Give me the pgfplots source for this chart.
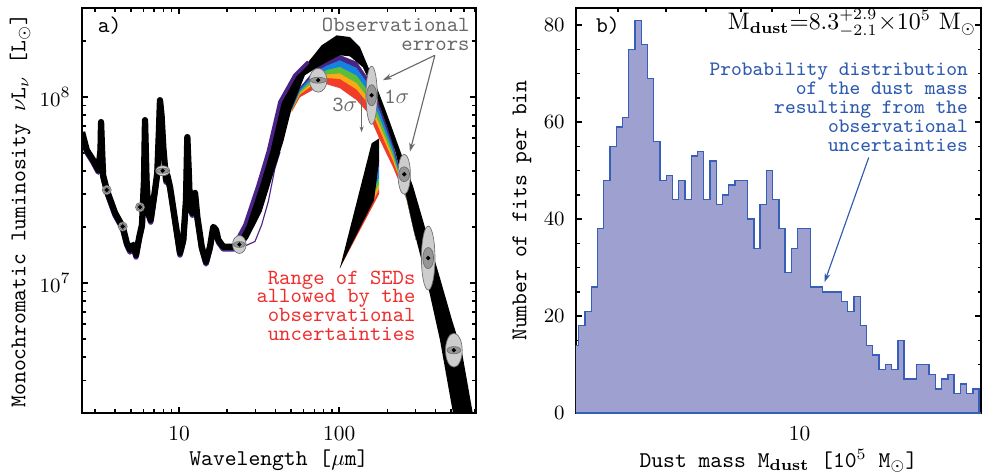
\documentclass[border=0pt]{standalone}
\usepackage{pgfplots}
\pgfplotsset{compat=1.18}
\usetikzlibrary{arrows.meta}

\definecolor{histfill}{RGB}{158,160,208}
\definecolor{histline}{RGB}{55,95,185}
\definecolor{txtblue}{RGB}{45,90,175}
\definecolor{txtred}{RGB}{240,45,45}
\definecolor{txtgray}{RGB}{105,105,105}
\definecolor{sedpurple}{RGB}{75,35,135}
\definecolor{sedblue}{RGB}{20,130,225}
\definecolor{sedgreen}{RGB}{90,190,60}
\definecolor{sedyellow}{RGB}{250,170,20}
\definecolor{sedred}{RGB}{240,60,40}
\definecolor{ellout}{RGB}{205,205,205}
\definecolor{ellin}{RGB}{150,150,150}
\definecolor{elldraw}{RGB}{110,110,110}

% error ellipse: x, y, outer half-width, outer half-height, inner half-width, inner half-height (pt)
\newcommand{\errell}[6]{%
  \addplot[only marks, mark=*, mark size=#4pt, mark options={xscale=#3/#4, fill=ellout, draw=elldraw, line width=0.3pt}] coordinates {(#1,#2)};
  \addplot[only marks, mark=*, mark size=#6pt, mark options={xscale=#5/#6, fill=ellin, draw=elldraw, line width=0.3pt}] coordinates {(#1,#2)};
  \addplot[only marks, mark=*, mark size=0.75pt, mark options={fill=black, draw=black}] coordinates {(#1,#2)};
}

\pgfplotsset{
  every axis/.append style={
    scale only axis,
    axis line style={line width=0.8pt},
    every tick/.style={black, line width=0.7pt},
    major tick length=2.8pt,
    minor tick length=1.6pt,
    tick label style={font=\fontsize{9.5}{11}\selectfont},
    label style={font=\ttfamily\fontsize{10}{12}\selectfont, inner sep=0.5pt},
    xticklabel style={yshift=-4.5pt, inner sep=1pt},
    yticklabel style={xshift=-1.5pt},
  },
}

\begin{document}
\begin{tikzpicture}
\useasboundingbox (-36.4pt,-26.2pt) rectangle (399.6pt,183.4pt);

% ---------------- panel a: SEDs ----------------
\begin{axis}[
  at={(0pt,0pt)}, anchor=south west,
  width=174.9pt, height=179.8pt,
  xmode=log, ymode=log,
  xmin=2.48, xmax=713, ymin=2e6, ymax=3e8,
  xtick={10,100}, xticklabels={10,100},
  minor xtick={3,4,5,6,7,8,9,20,30,40,50,60,70,80,90,200,300,400,500,600,700},
  ytick={1e7,1e8},
  minor ytick={3e6,4e6,5e6,6e6,7e6,8e6,9e6,2e7,3e7,4e7,5e7,6e7,7e7,8e7,9e7,2e8,3e8},
  xlabel={Wavelength [$\mu$m]},
  ylabel={Monochromatic luminosity $\nu$L$_\nu$ [L$_\odot$]},
  xlabel style={at={(axis description cs:0.5,-0.116)}, anchor=center},
  ylabel style={at={(axis description cs:-0.157,0.5)}, anchor=center},
]
% rainbow of fits below the black band
\addplot[draw=none, fill=sedred] coordinates {
 (50.48,8.28e7) (56.86,9.96e7) (71.53,1.113e8) (83.42,1.170e8) (101.0,1.113e8) (128.4,9.60e7)
 (151.7,8.18e7) (179.4,5.86e7) (216.3,4.20e7) (263.4,2.795e7) (301.0,1.706e7)
 (263.4,2.865e7) (216.3,5.58e7) (179.4,8.92e7) (151.7,1.250e8) (128.4,1.540e8)
 (101.0,1.673e8) (83.42,1.535e8) (71.53,1.425e8) (56.86,1.120e8) (50.48,8.67e7)};
\addplot[draw=none, fill=sedyellow] coordinates {
 (50.48,8.38e7) (56.86,1.030e8) (71.53,1.193e8) (83.42,1.262e8) (101.0,1.248e8) (128.4,1.096e8)
 (151.7,9.21e7) (179.4,6.59e7) (216.3,4.55e7) (263.4,2.814e7) (301.0,1.706e7)
 (263.4,2.865e7) (216.3,5.58e7) (179.4,8.92e7) (151.7,1.250e8) (128.4,1.540e8)
 (101.0,1.673e8) (83.42,1.535e8) (71.53,1.425e8) (56.86,1.120e8) (50.48,8.67e7)};
\addplot[draw=none, fill=sedgreen] coordinates {
 (50.48,8.45e7) (56.86,1.050e8) (71.53,1.244e8) (83.42,1.322e8) (101.0,1.337e8) (128.4,1.188e8)
 (151.7,9.90e7) (179.4,7.08e7) (216.3,4.77e7) (263.4,2.826e7) (301.0,1.706e7)
 (263.4,2.865e7) (216.3,5.58e7) (179.4,8.92e7) (151.7,1.250e8) (128.4,1.540e8)
 (101.0,1.673e8) (83.42,1.535e8) (71.53,1.425e8) (56.86,1.120e8) (50.48,8.67e7)};
\addplot[draw=none, fill=sedblue] coordinates {
 (50.48,8.53e7) (56.86,1.075e8) (71.53,1.307e8) (83.42,1.395e8) (101.0,1.451e8) (128.4,1.305e8)
 (151.7,1.078e8) (179.4,7.70e7) (216.3,5.05e7) (263.4,2.84e7) (301.0,1.706e7)
 (263.4,2.865e7) (216.3,5.58e7) (179.4,8.92e7) (151.7,1.250e8) (128.4,1.540e8)
 (101.0,1.673e8) (83.42,1.535e8) (71.53,1.425e8) (56.86,1.120e8) (50.48,8.67e7)};
\addplot[draw=none, fill=sedpurple] coordinates {
 (50.48,8.61e7) (56.86,1.101e8) (71.53,1.373e8) (83.42,1.474e8) (101.0,1.574e8) (128.4,1.435e8)
 (151.7,1.173e8) (179.4,8.37e7) (216.3,5.35e7) (263.4,2.854e7) (301.0,1.706e7)
 (263.4,2.865e7) (216.3,5.58e7) (179.4,8.92e7) (151.7,1.250e8) (128.4,1.540e8)
 (101.0,1.673e8) (83.42,1.535e8) (71.53,1.425e8) (56.86,1.120e8) (50.48,8.67e7)};
% lone low fit on the rising side
\addplot[sedpurple, line width=0.5pt] coordinates {
 (24.37,1.546e7) (29.79,1.671e7) (32.81,2.053e7) (36.07,2.736e7) (39.71,4.133e7) (42.67,5.05e7)};
% black band of fits, far-IR
\addplot[draw=none, fill=black] coordinates {
 (22.68,1.665e7) (25.80,2.053e7) (31.24,3.364e7) (36.07,5.074e7) (42.67,9.40e7) (52.92,1.307e8)
 (64.07,1.540e8) (77.67,1.893e8) (96.34,2.141e8) (116.6,2.097e8) (134.6,1.854e8) (151.7,1.448e8)
 (171.2,1.131e8) (197.6,8.18e7) (239.2,5.18e7) (289.4,3.294e7) (350.9,1.861e7) (424.9,1.068e7)
 (504.9,6.36e6) (582.7,4.283e6) (692.2,1.851e6)
 (527.0,1.851e6) (512.1,2.018e6) (424.9,4.967e6) (350.9,1.042e7) (289.4,1.979e7) (257.0,3.162e7)
 (222.6,5.18e7) (197.6,7.05e7) (171.2,9.96e7) (140.5,1.443e8) (116.6,1.652e8) (101.0,1.673e8)
 (83.42,1.535e8) (71.53,1.425e8) (61.09,1.307e8) (50.48,8.67e7) (44.74,5.74e7) (39.71,4.133e7)
 (32.81,2.419e7) (27.06,1.743e7) (23.34,1.471e7)};
\addplot[sedpurple, line width=1.6pt] coordinates {
 (22.68,1.665e7) (25.80,2.053e7) (31.24,3.364e7) (36.07,5.074e7) (42.67,9.40e7) (52.92,1.307e8)
 (64.07,1.540e8)};
% mid-IR part (PAH features)
\addplot[sedpurple, line width=2.4pt, line join=round, yshift=-1pt] coordinates {
 (2.483,6.47e7) (2.656,5.18e7) (2.908,4.58e7) (3.138,4.05e7) (3.238,5.18e7) (3.262,7.32e7)
 (3.309,5.18e7) (3.357,3.80e7) (3.54,3.16e7) (3.988,2.38e7) (4.455,2.003e7) (4.72,1.644e7)
 (4.947,1.508e7) (5.187,1.604e7) (5.393,1.418e7) (5.653,1.771e7) (5.877,2.053e7) (6.049,3.58e7)
 (6.136,7.50e7) (6.27,3.58e7) (6.435,2.38e7) (6.66,2.184e7) (7.085,3.16e7) (7.32,3.90e7)
 (7.50,6.63e7) (7.61,9.60e7) (7.78,7.98e7) (7.98,5.38e7) (8.30,3.58e7) (8.45,3.80e7)
 (8.79,3.28e7) (9.44,2.184e7) (10.14,1.453e7) (10.64,1.706e7) (11.06,2.795e7) (11.27,6.08e7)
 (11.49,4.05e7) (11.71,2.564e7) (12.11,2.38e7) (12.59,3.047e7) (13.01,2.266e7) (13.86,1.565e7)
 (14.74,1.301e7) (15.61,1.565e7) (16.37,2.003e7) (17.02,1.93e7) (17.59,1.706e7) (18.90,1.565e7)
 (21.82,1.565e7) (23.78,1.604e7)};
\addplot[black, line width=2.8pt, line join=round] coordinates {
 (2.483,6.47e7) (2.656,5.18e7) (2.908,4.58e7) (3.138,4.05e7) (3.238,5.18e7) (3.262,7.32e7)
 (3.309,5.18e7) (3.357,3.80e7) (3.54,3.16e7) (3.988,2.38e7) (4.455,2.003e7) (4.72,1.644e7)
 (4.947,1.508e7) (5.187,1.604e7) (5.393,1.418e7) (5.653,1.771e7) (5.877,2.053e7) (6.049,3.58e7)
 (6.136,7.50e7) (6.27,3.58e7) (6.435,2.38e7) (6.66,2.184e7) (7.085,3.16e7) (7.32,3.90e7)
 (7.50,6.63e7) (7.61,9.60e7) (7.78,7.98e7) (7.98,5.38e7) (8.30,3.58e7) (8.45,3.80e7)
 (8.79,3.28e7) (9.44,2.184e7) (10.14,1.453e7) (10.64,1.706e7) (11.06,2.795e7) (11.27,6.08e7)
 (11.49,4.05e7) (11.71,2.564e7) (12.11,2.38e7) (12.59,3.047e7) (13.01,2.266e7) (13.86,1.565e7)
 (14.74,1.301e7) (15.61,1.565e7) (16.37,2.003e7) (17.02,1.93e7) (17.59,1.706e7) (18.90,1.565e7)
 (21.82,1.565e7) (23.78,1.604e7)};
% pointer from the red text
\addplot[draw=none, fill=sedpurple] coordinates {(101.0,1.203e7) (177.6,4.58e7) (177.6,4.25e7)};
\addplot[draw=none, fill=sedblue] coordinates {(101.0,1.203e7) (177.6,4.25e7) (177.6,3.95e7)};
\addplot[draw=none, fill=cyan!70!blue] coordinates {(101.0,1.203e7) (177.6,3.95e7) (177.6,3.67e7)};
\addplot[draw=none, fill=sedgreen] coordinates {(101.0,1.203e7) (177.6,3.67e7) (177.6,3.41e7)};
\addplot[draw=none, fill=sedyellow] coordinates {(101.0,1.203e7) (177.6,3.41e7) (177.6,3.20e7)};
\addplot[draw=none, fill=sedred] coordinates {(101.0,1.203e7) (177.6,3.20e7) (177.6,3.01e7)};
\addplot[draw=none, fill=black] coordinates {
 (101.0,1.203e7) (159.3,5.63e7) (177.6,5.99e7) (177.6,4.58e7) (165.0,2.795e7)};
% photometry with error ellipses
\errell{3.54}{3.16e7}{2.0}{2.0}{1.4}{1.4}
\errell{4.455}{2.01e7}{2.0}{2.0}{1.4}{1.4}
\errell{5.71}{2.555e7}{2.0}{2.0}{1.4}{1.4}
\errell{7.91}{4.01e7}{3.1}{2.2}{2.9}{1.1}
\errell{23.8}{1.61e7}{3.0}{4.0}{2.7}{1.3}
\errell{73.9}{1.229e8}{3.9}{5.3}{3.6}{1.3}
\errell{159.3}{1.02e8}{2.5}{12.9}{2.2}{4.7}
\errell{254.4}{3.84e7}{2.75}{8.9}{2.4}{3.3}
\errell{359.2}{1.361e7}{3.0}{14.2}{2.4}{4.7}
\errell{519.4}{4.353e6}{3.7}{7.5}{3.1}{1.6}
% annotations
\node[anchor=west, font=\ttfamily\fontsize{10}{12}\selectfont] at (rel axis cs:0.02,0.958) {a)};
\node[anchor=north east, align=right, inner sep=0pt, text=txtgray,
      font=\ttfamily\fontsize{9.6}{8.2}\selectfont] at (rel axis cs:0.985,0.976) {Observational\\errors};
\draw[txtgray, line width=0.5pt, -{Stealth[length=4pt,width=2.6pt]}] (axis cs:395.4,1.673e8) -- (axis cs:187.3,1.229e8);
\draw[txtgray, line width=0.5pt, -{Stealth[length=4pt,width=2.6pt]}] (axis cs:395.4,1.673e8) -- (axis cs:276.1,5.074e7);
\draw[txtgray, line width=0.4pt, -{Stealth[length=2.5pt,width=1.8pt]}] (axis cs:137.9,1.0e8) -- (axis cs:137.9,6.47e7);
\node[text=txtgray, inner sep=1pt, font=\ttfamily\fontsize{9.6}{11}\selectfont] at (axis cs:229,1.0e8) {1$\sigma$};
\node[text=txtgray, inner sep=1pt, font=\ttfamily\fontsize{9.6}{11}\selectfont] at (axis cs:108.5,9.03e7) {3$\sigma$};
\node[anchor=north east, align=right, inner sep=0pt, text=txtred,
      font=\ttfamily\fontsize{9.6}{8.4}\selectfont] at (rel axis cs:0.8477,0.353)
      {Range of SEDs\\allowed by the\\observational\\uncertainties};
\end{axis}

% ---------------- panel b: dust mass histogram ----------------
\begin{axis}[
  at={(219.3pt,0pt)}, anchor=south west,
  width=179.9pt, height=179.8pt,
  xmode=log,
  xmin=4.256, xmax=20, ymin=0, ymax=83.5,
  xtick={10}, xticklabels={10},
  minor xtick={5,6,7,8,9,20},
  ytick={0,20,40,60,80}, minor y tick num=3,
  xlabel={Dust mass M$_{\mathbf{dust}}$ [10$^5$ M$_\odot$]},
  ylabel={Number of fits per bin},
  xlabel style={at={(axis description cs:0.5,-0.118)}, anchor=center},
  ylabel style={at={(axis description cs:-0.133,0.5)}, anchor=center},
]
\addplot[const plot mark left, fill=histfill, draw=histline, line width=0.6pt] coordinates {
 (4.2,14) (4.301,18) (4.405,21) (4.512,26) (4.621,38) (4.733,48) (4.847,55) (4.964,59)
 (5.084,61) (5.207,75) (5.333,81) (5.462,76) (5.594,69) (5.729,56) (5.868,48) (6.010,49)
 (6.155,44) (6.304,48) (6.456,44) (6.612,53) (6.772,54) (6.936,44) (7.104,52) (7.276,43)
 (7.452,45) (7.632,47) (7.817,48) (8.006,48) (8.199,40) (8.397,34) (8.600,43) (8.808,50)
 (9.021,44) (9.239,38) (9.463,29) (9.692,34) (9.926,38) (10.166,38) (10.412,26) (10.664,26)
 (10.922,25) (11.186,25) (11.457,25) (11.734,23) (12.018,21) (12.309,24) (12.607,18) (12.912,14)
 (13.224,12) (13.544,9) (13.872,10) (14.207,9) (14.551,15) (14.903,7) (15.263,7) (15.632,10)
 (16.010,10) (16.397,8) (16.794,5) (17.200,7) (17.616,8) (18.042,4) (18.478,6) (18.925,4)
 (19.383,5) (19.852,0) (20.5,0)} \closedcycle;
\draw[txtblue, line width=0.5pt, -{Stealth[length=4pt,width=2.6pt]}] (axis cs:13.02,52.7) -- (axis cs:11.0,27.0);
\node[anchor=west, font=\ttfamily\fontsize{10}{12}\selectfont] at (rel axis cs:0.03,0.958) {b)};
\node[anchor=east, inner sep=1pt, font=\fontsize{10.6}{12}\selectfont] at (rel axis cs:0.994,0.963)
      {M$_{\mathbf{dust}}$$=$8.3$^{+2.9}_{-2.1}$$\times$10$^5$ M$_\odot$};
\node[anchor=north east, align=right, inner sep=0pt, text=txtblue,
      font=\ttfamily\fontsize{9.1}{8.4}\selectfont] at (rel axis cs:0.9686,0.865)
      {Probability distribution\\of the dust mass\\resulting from the\\observational\\uncertainties};
\end{axis}
\end{tikzpicture}
\end{document}
